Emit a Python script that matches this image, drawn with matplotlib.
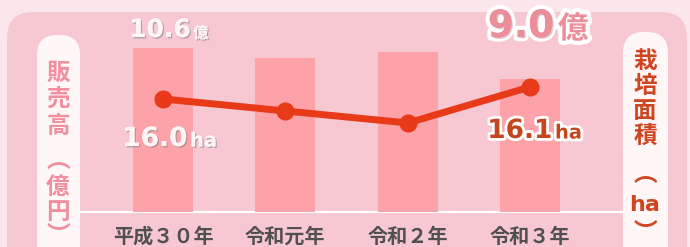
import matplotlib.pyplot as plt
import matplotlib.patheffects as pe
from matplotlib.patches import FancyBboxPatch

# data
years = ["平成３０年", "令和元年", "令和２年", "令和３年"]
sales = [10.6, 10.1, 10.4, 9.0]        # 億円
area = [16.0, 15.9, 15.8, 16.1]        # ha

jp = ["Noto Sans CJK JP", "DejaVu Sans"]
num = ["DejaVu Sans", "Noto Sans CJK JP"]

fig = plt.figure(figsize=(6.9, 2.47), dpi=100)
fig.patch.set_facecolor("#fbe6eb")

# background layer in pixel coords
bg = fig.add_axes([0, 0, 1, 1])
bg.set_xlim(0, 690)
bg.set_ylim(247, 0)
bg.axis("off")
bg.add_patch(FancyBboxPatch((7, 12), 680, 260, boxstyle="round,pad=0,rounding_size=26",
                            fc="#f7c8d2", ec="none"))
bg.add_patch(FancyBboxPatch((37, 35), 43, 240, boxstyle="round,pad=0,rounding_size=20",
                            fc="#fff6f8", ec="none"))
bg.add_patch(FancyBboxPatch((623, 32), 45, 240, boxstyle="round,pad=0,rounding_size=21",
                            fc="#fff6f8", ec="none"))
bg.plot([80, 623], [212, 212], color="white", lw=1.6)

# vertical axis titles
left_chars = ["販", "売", "高", "︵", "億", "円", "︶"]
left_y = [73, 99, 126, 160, 187, 212, 236]
for c, y in zip(left_chars, left_y):
    bg.text(58, y, c, ha="center", va="center", fontsize=17, fontweight="bold",
            color="#f28e9e", family=jp)
right_chars = ["栽", "培", "面", "積", "︵", "ha", "︶"]
right_y = [61, 86, 111, 136, 174, 205, 233]
for c, y in zip(right_chars, right_y):
    bg.text(645, y, c, ha="center", va="center", fontsize=17 if c != "ha" else 16,
            fontweight="bold", color="#cf4520", family=jp if c != "ha" else num)

# x labels
for i, lab in enumerate(years):
    bg.text(163 + i * 122.3, 236, lab, ha="center", va="center", fontsize=14.5,
            fontweight="bold", color="#505050", family=jp)

# bars
ax = fig.add_axes([80 / 690, 35 / 247, 543 / 690, 200 / 247])
ax.patch.set_alpha(0)
x = range(len(years))
ax.bar(x, sales, width=0.49, color="#fca2a8", zorder=2)
ax.set_xlim(-0.68, 3.76)
ax.set_ylim(2.15, 12.46)
ax.axis("off")

# line
ax2 = ax.twinx()
ax2.plot(x, area, color="#e83a18", lw=5, marker="o", ms=12, zorder=3,
         solid_capstyle="round")
ax2.set_ylim(15.058, 16.725)
ax2.axis("off")

# overlay for value labels
top = fig.add_axes([0, 0, 1, 1])
top.set_xlim(0, 690)
top.set_ylim(247, 0)
top.axis("off")
top.patch.set_alpha(0)

shadow = [pe.withSimplePatchShadow(offset=(1, -1), shadow_rgbFace="#888888", alpha=0.6),
          pe.Normal()]
outline = [pe.Stroke(linewidth=4, foreground="white"), pe.Normal()]

top.text(160, 30, "10.6", ha="center", va="center", fontsize=18, fontweight="bold",
         color="#fff4f6", family=num, path_effects=shadow)
top.text(193, 33, "億", ha="left", va="center", fontsize=11, fontweight="bold",
         color="#fff4f6", family=jp, path_effects=shadow)

top.text(521, 27, "9.0", ha="center", va="center", fontsize=27, fontweight="bold",
         color="#ec8e9a", family=num,
         path_effects=[pe.Stroke(linewidth=6, foreground="white"),
                       pe.withSimplePatchShadow(offset=(1, -1), shadow_rgbFace="#c0a0a8", alpha=0.5),
                       pe.Normal()])
top.text(558, 29, "億", ha="left", va="center", fontsize=22, fontweight="bold",
         color="#ec8e9a", family=jp,
         path_effects=[pe.Stroke(linewidth=6, foreground="white"), pe.Normal()])

top.text(155, 139, "16.0", ha="center", va="center", fontsize=19, fontweight="bold",
         color="#fff4f6", family=num, path_effects=shadow)
top.text(190, 141, "ha", ha="left", va="center", fontsize=14, fontweight="bold",
         color="#fff4f6", family=num, path_effects=shadow)

top.text(520, 131, "16.1", ha="center", va="center", fontsize=19, fontweight="bold",
         color="#c4461c", family=num, path_effects=outline)
top.text(555, 133, "ha", ha="left", va="center", fontsize=14, fontweight="bold",
         color="#c4461c", family=num, path_effects=outline)

fig.savefig("out.png", dpi=100, facecolor=fig.get_facecolor())
